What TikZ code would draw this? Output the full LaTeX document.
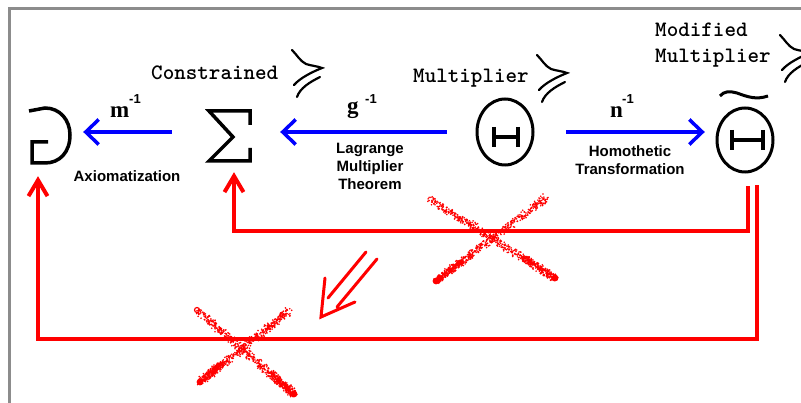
\documentclass[tikz,border=0pt]{standalone}
\usepackage{fontspec}
\setmainfont{Liberation Sans}
\newfontfamily\serifbold{Liberation Serif}
\usetikzlibrary{arrows.meta,calc}
\definecolor{xblue}{HTML}{0000FF}
\definecolor{xred}{HTML}{FF0000}

\begin{document}
\begin{tikzpicture}[x=1pt, y=-1pt,
    hole/.style={inner sep=0pt, minimum width=#1},
    ink/.style={black, line width=3.5pt},
    squig/.style={black, line width=2.2pt, line cap=round},
    fwd/.style={xblue, line width=3.5pt, -{Straight Barb[length=13pt,width=25pt]}},
    back/.style={xred, line width=4pt, -{Straight Barb[length=16pt,width=19pt]}},
    lbl/.style={font=\fontsize{15}{18}\selectfont\bfseries, align=center, inner sep=0pt, anchor=base},
    wordtag/.style={font=\fontsize{22}{26}\selectfont\ttfamily\bfseries, align=left, inner sep=0pt, anchor=base west},
    invname/.style={font=\fontsize{23}{23}\selectfont\serifbold\bfseries, inner sep=0pt, anchor=base west},
    expo/.style={font=\fontsize{13}{13}\selectfont\bfseries, inner sep=0pt, anchor=base west}]
  \useasboundingbox (0,0) rectangle (801,403);
  % frame
  \draw[black!45, line width=3pt] (9.5,403) -- (9.5,8.5) -- (801,8.5);
  % the four structures (centres on the arrow line)
  \node[hole=41pt, minimum height=62pt] (axiom) at (49.5,132) {};
  \node[hole=43pt, minimum height=60pt] (sigma) at (229,132) {};
  \node[hole=56pt, minimum height=70pt] (theta) at (505,132) {};
  \node[hole=56pt, minimum height=80pt] (thetamod) at (745,132) {};
  % axiom symbol
  \draw[ink] (29,111) -- (45,108) .. controls (60,108) and (70,120) .. (70,135)
    .. controls (70,152) and (60,163) .. (45,163) -- (32,163) -- (32,142) -- (48,142);
  % sigma
  \draw[ink] (250,125) -- (250,111) -- (209,111) -- (233,137) -- (209,161) -- (250,161) -- (250,148);
  % theta with H
  \draw[black, line width=3pt] (theta) ellipse (28pt and 33pt);
  \draw[ink] (494,127) -- (494,147) (518,127) -- (518,147) (494,137) -- (518,137);
  % modified theta with H and tilde
  \draw[black, line width=3pt] (745,140) ellipse (28pt and 32pt);
  \draw[ink] (732,130) -- (732,150) (763,130) -- (763,150) (732,140) -- (763,140);
  \draw[black, line width=3pt] (720,96) .. controls (724,91) and (730,91) .. (737,93)
    .. controls (748,97) and (756,100) .. (768,96);
  % blue maps
  \draw[fwd, shorten <=35.5pt, shorten >=13pt] (sigma) -- (axiom);
  \draw[fwd, shorten <=30pt, shorten >=29.5pt] (theta) -- (sigma);
  \draw[fwd, shorten <=33pt, shorten >=12pt] (theta) -- (thetamod);
  \node[invname] (m) at (110,118) {m};
  \node[expo] (mexp) at (129,104) {-1};
  \node[invname] (g) at (347,114) {g};
  \node[expo] (gexp) at (365,104) {-1};
  \node[invname] (n) at (610,118) {n};
  \node[expo] (nexp) at (622,104) {-1};
  \node[lbl] (axl) at (127,182) {Axiomatization};
  \node[lbl] (lmt) at (370,190) {Lagrange\\Multiplier\\Theorem};
  \node[lbl] (homt) at (630,175) {Homothetic\\Transformation};
  % names of the categories
  \node[wordtag] (constr) at (151,80) {Constrained};
  \node[wordtag] (mult) at (413,83) {Multiplier};
  \node[wordtag] (modmult) at (655,63) {Modified\\Multiplier};
  \foreach \ox/\oy in {292/50, 537/55, 780/35}
    \draw[squig, shift={(\ox,\oy)}] (0,0) .. controls (5,5) and (8,11) .. (14,14)
      .. controls (20,16) and (25,16) .. (30,18) .. controls (20,22) and (8,28) .. (2,35)
      (5,47) .. controls (8,38) and (18,32) .. (28,27);
  % red return paths
  \draw[back, shorten >=10pt] ($(thetamod.south)+(3,14)$) -- ++(0,45) -| ([xshift=5pt]sigma.south);
  \draw[back, shorten >=13pt] ($(thetamod.south)+(12,13)$) -- ++(0,154) -| ([xshift=-11.5pt]axiom.south);
  \draw[xred, line width=3pt, line cap=round] (366,252) -- (328,298) (377,259) -- (337,307)
    (325,278) -- (321,317) -- (355,302);
  % crossings out
  \coordinate (xa) at (197,310); \coordinate (xb) at (294,394);
  \coordinate (xc) at (289,311); \coordinate (xd) at (200,382);
  \coordinate (xe) at (430,199); \coordinate (xf) at (555,278);
  \coordinate (xg) at (547,197); \coordinate (xh) at (436,281);
  \pgfmathsetseed{42}
  \foreach \a/\b in {xa/xb, xc/xd, xe/xf, xg/xh} {
    \foreach \i in {1,...,450} {
      \pgfmathsetmacro\t{rnd}
      \fill[xred] ($(\a)!\t!(\b)$) ++(rand*3.6pt, rand*3.6pt) circle (0.9pt);
    }
    \foreach \i in {1,...,120} {
      \pgfmathsetmacro\t{1-0.25*rnd}
      \fill[xred] ($(\a)!\t!(\b)$) ++(rand*3pt, rand*3pt) circle (1.1pt);
    }
    \fill[xred] (\b) circle (3.4pt);
  }
  \draw[xred, line width=1.2pt] (xa) circle (2.5pt);
\end{tikzpicture}
\end{document}
